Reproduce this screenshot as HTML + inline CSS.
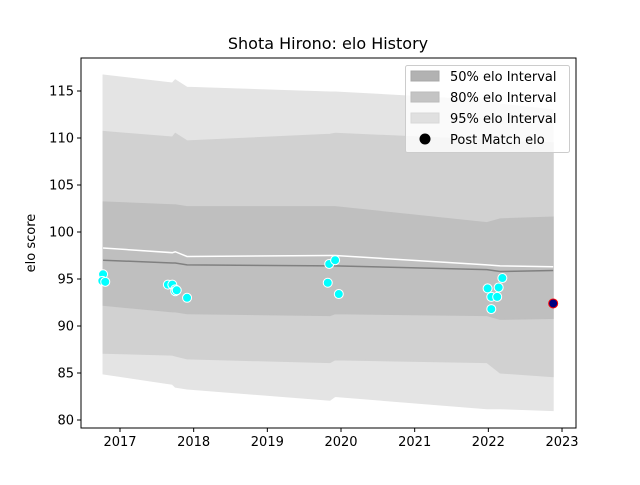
<!DOCTYPE html>
<html><head><meta charset="utf-8"><style>
body{margin:0;background:#fff;font-family:"Liberation Sans","DejaVu Sans",sans-serif}
svg text{font-family:"DejaVu Sans","Liberation Sans",sans-serif}
</style></head><body>
<svg id="c" width="640" height="480" xmlns="http://www.w3.org/2000/svg"></svg>
<script>
const bandX=[2016.77,2017.71,2017.75,2017.91,2019.85,2019.92,2021.98,2022.16,2022.88];
const top95=[116.7,115.85,116.2,115.4,114.9,114.9,114.0,113.6,113.0];
const bot95=[84.9,83.8,83.5,83.3,82.1,82.5,81.2,81.2,81.0];
const top80=[110.7,110.1,110.5,109.7,110.4,110.5,109.8,109.6,109.5];
const bot80=[87.1,86.9,86.8,86.5,86.1,86.4,86.1,85.0,84.6];
const top50=[103.2,102.9,102.9,102.7,102.7,102.7,101.0,101.4,101.6];
const bot50=[92.2,91.5,91.5,91.3,91.1,91.3,91.1,90.7,90.8];
const meanLine=[98.3,97.8,97.9,97.4,97.5,97.5,96.5,96.4,96.3];
const medianLine=[97.0,96.7,96.7,96.5,96.4,96.4,96.0,95.8,95.9];
const ptX=[2016.77,2016.76,2016.80,2017.65,2017.71,2017.75,2017.75,2017.77,2017.91,2019.82,2019.84,2019.92,2019.97,2021.99,2022.04,2022.04,2022.12,2022.14,2022.19];
const ptY=[95.5,94.8,94.7,94.4,94.4,93.9,93.7,93.8,93.0,94.6,96.6,97.0,93.4,94.0,93.1,91.8,93.1,94.1,95.1];
const postX=[2022.88];const postY=[92.4];
const xTicks=[2017,2018,2019,2020,2021,2022,2023];
const yTicks=[80,85,90,95,100,105,110,115];
const L=81,R=576,T=58,B=428;
const sx=v=>120+(v-2017)*73.67, sy=v=>91+(115-v)*9.4;
const svg=document.getElementById('c');const NS='http://www.w3.org/2000/svg';
function mk(t,a,p){const e=document.createElementNS(NS,t);for(const k in a)e.setAttribute(k,a[k]);(p||svg).appendChild(e);return e;}
function band(tp,bt,fill,name){let d='M'+bandX.map((x,i)=>sx(x)+','+sy(tp[i])).join('L');
 for(let i=bandX.length-1;i>=0;i--)d+='L'+sx(bandX[i])+','+sy(bt[i]);
 const p=mk('path',{d:d+'Z',fill:fill,stroke:fill,'stroke-width':1});
 
 }
band(top95,bot95,'#e4e4e4','band-95');
band(top80,bot80,'#d1d1d1','band-80');
band(top50,bot50,'#bfbfbf','band-50');
function line(ys,col,name){const p=mk('polyline',{points:bandX.map((x,i)=>sx(x)+','+sy(ys[i])).join(' '),fill:'none',stroke:col,'stroke-width':1.5});
 
 }
line(medianLine,'#808080','median-line');
line(meanLine,'#ffffff','mean-line');
ptX.forEach((x,i)=>{const c=mk('circle',{cx:sx(x),cy:sy(ptY[i]),r:4.5,fill:'#00ffff',stroke:'#fff','stroke-width':1});
 
 });
postX.forEach((x,i)=>{const c=mk('circle',{cx:sx(x),cy:sy(postY[i]),r:4.5,fill:'#000080',stroke:'#ff0000','stroke-width':1});
 
 });
mk('rect',{x:L,y:T,width:R-L,height:B-T,fill:'none',stroke:'#000','stroke-width':1});
xTicks.forEach(t=>{const x=sx(t);mk('line',{x1:x,x2:x,y1:B,y2:B+4,stroke:'#000'});
 const e=mk('text',{x:x,y:B+18,'text-anchor':'middle','font-size':13});e.textContent=t;
 
 });
yTicks.forEach(t=>{const y=sy(t);mk('line',{x1:L-4,x2:L,y1:y,y2:y,stroke:'#000'});
 const e=mk('text',{x:L-7,y:y+4.5,'text-anchor':'end','font-size':13});e.textContent=t;
 
 });
</script>
<svg style="position:absolute;left:0;top:0" width="640" height="480">
<text x="328" y="49" text-anchor="middle" font-size="16">Shota Hirono: elo History</text>
<text x="35" y="243" text-anchor="middle" font-size="13" transform="rotate(-90 35 243)">elo score</text>
<g>
<rect x="405.5" y="65.5" width="164" height="87" rx="2" fill="#fff" fill-opacity="0.8" stroke="#ccc"/>
<rect x="411" y="71" width="28" height="10" fill="#b2b2b2" stroke="#a8a8a8"/>
<text x="450" y="81" font-size="13">50% elo Interval</text>
<rect x="411" y="92" width="28" height="10" fill="#c4c4c4" stroke="#bbb"/>
<text x="450" y="102" font-size="13">80% elo Interval</text>
<rect x="411" y="113" width="28" height="10" fill="#e0e0e0" stroke="#d8d8d8"/>
<text x="450" y="123" font-size="13">95% elo Interval</text>
<circle cx="425" cy="139" r="5.5" fill="#000"/>
<text x="450" y="144" font-size="13">Post Match elo</text>
</g>
</svg>
</body></html>
